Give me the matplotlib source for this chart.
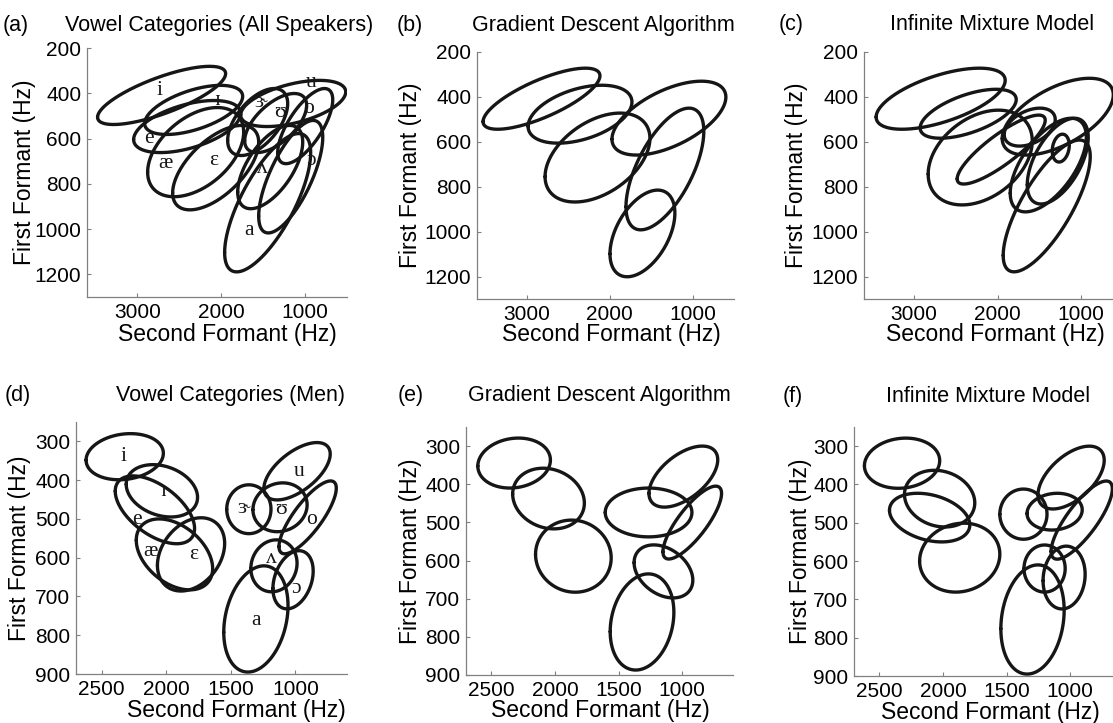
import numpy as np
import matplotlib
matplotlib.use('Agg')
import matplotlib.pyplot as plt

plt.rcParams['font.family'] = ['Liberation Sans', 'DejaVu Sans']

# ---- data: each ellipse = F2 range, F1 range, tilt (correlation) ----
vowels = ['i', 'ɪ', 'e', 'æ', 'ɛ', 'ɝ', 'ʊ', 'u', 'o', 'ʌ', 'ɔ', 'a']

# (a) all speakers
a_f2_hi = [3474, 2913, 3044, 2877, 2579, 1923, 1720, 1768, 1326, 1803, 1553, 1959]
a_f2_lo = [1947, 1744, 1768, 1732, 1553, 1207, 981, 515, 670, 1028, 789, 933]
a_f1_lo = [281, 365, 432, 463, 542, 379, 401, 343, 379, 542, 520, 578]
a_f1_hi = [538, 582, 662, 857, 915, 675, 662, 547, 711, 910, 1017, 1189]
a_rho = [0.75, 0.55, 0.5, 0.45, 0.6, 0.55, 0.6, 0.5, 0.7, 0.6, 0.7, 0.72]
a_lab_f2 = [2730, 2046, 2862, 2662, 2086, 1529, 1299, 933, 953, 1509, 933, 1669]
a_lab_f1 = [387, 432, 601, 712, 697, 439, 484, 351, 468, 734, 697, 1008]

# (b) gradient descent, all speakers
b_f2_hi = [3527, 2984, 2779, 1972, 1803, 1996]
b_f2_lo = [2117, 1731, 1514, 598, 864, 1213]
b_f1_lo = [272, 348, 472, 330, 450, 815]
b_f1_hi = [544, 606, 868, 659, 992, 1201]
b_rho = [0.75, 0.42, 0.43, 0.57, 0.62, 0.47]

# (c) infinite mixture model, all speakers
c_f2_hi = [3455, 2928, 2832, 2485, 1946, 1922, 1934, 1850, 1646, 1347]
c_f2_lo = [1910, 1778, 1586, 1431, 616, 1311, 892, 939, 916, 1143]
c_f1_lo = [272, 366, 459, 481, 317, 450, 592, 495, 495, 566]
c_f1_hi = [544, 584, 881, 788, 659, 619, 1179, 912, 877, 690]
c_rho = [0.6, 0.58, 0.35, 0.85, 0.57, 0.4, 0.75, 0.6, 0.55, 0.2]

# (d) men
d_f2_hi = [2622, 2311, 2396, 2233, 2069, 1532, 1329, 1244, 1127, 1345, 1174, 1555]
d_f2_lo = [2023, 1758, 1781, 1641, 1548, 1189, 909, 730, 683, 987, 862, 1057]
d_f1_lo = [280, 360, 389, 500, 497, 412, 407, 303, 402, 554, 582, 621]
d_f1_hi = [399, 495, 564, 683, 686, 538, 533, 451, 590, 688, 732, 895]
d_rho = [0.15, -0.25, -0.55, -0.4, 0.3, 0.0, 0.1, 0.6, 0.8, 0.1, 0.3, 0.25]
d_lab_f2 = [2332, 2025, 2227, 2124, 1787, 1397, 1111, 969, 878, 1189, 995, 1306]
d_lab_f1 = [340, 429, 502, 584, 593, 472, 476, 377, 502, 601, 679, 761]

# (e) gradient descent, men
e_f2_hi = [2607, 2333, 2153, 1605, 1261, 1151, 1378, 1566]
e_f2_lo = [2036, 1769, 1558, 923, 720, 690, 916, 1065]
e_f1_lo = [279, 358, 494, 410, 300, 405, 559, 635]
e_f1_hi = [410, 517, 683, 538, 460, 596, 698, 887]
e_rho = [0.12, -0.15, -0.05, 0.0, 0.55, 0.8, -0.33, 0.2]

# (f) infinite mixture model, men
f_f2_hi = [2618, 2303, 2421, 2184, 1553, 1253, 1339, 1150, 1363, 1213, 1545]
f_f2_lo = [2026, 1750, 1789, 1553, 1182, 732, 905, 668, 1039, 882, 1047]
f_f1_lo = [279, 363, 423, 501, 412, 300, 423, 391, 558, 561, 610]
f_f1_hi = [410, 511, 550, 681, 543, 464, 519, 595, 681, 725, 895]
f_rho = [0.1, -0.15, -0.3, 0.1, 0.0, 0.55, 0.1, 0.8, 0.0, 0.1, 0.17]

top_xticks = [3000, 2000, 1000]
top_yticks = [200, 400, 600, 800, 1000, 1200]
bot_xticks = [2500, 2000, 1500, 1000]
bot_yticks = [300, 400, 500, 600, 700, 800, 900]

W, H = 1113, 723
fig = plt.figure(figsize=(W / 100, H / 100), dpi=100)
INK = '#161616'
GREY = '#808080'


def box(l, t, r, b):
    return [l / W, 1 - b / H, (r - l) / W, (b - t) / H]


def ellipses(ax, f2hi, f2lo, f1lo, f1hi, rho):
    t = np.linspace(0, 2 * np.pi, 400)
    for x1, x0, y0, y1, r in zip(f2hi, f2lo, f1lo, f1hi, rho):
        cx, ax_ = (x0 + x1) / 2, (x1 - x0) / 2
        cy, ay_ = (y0 + y1) / 2, (y1 - y0) / 2
        phi = np.arccos(r)
        ax.plot(cx + ax_ * np.cos(t), cy + ay_ * np.cos(t + phi),
                color=INK, lw=2.4, solid_joinstyle='round', solid_capstyle='round')


def setup(ax, xlim, ylim, xt, yt, xlab_px, ylab_px):
    ax.set_xlim(*xlim)
    ax.set_ylim(*ylim)
    ax.set_xticks(xt)
    ax.set_yticks(yt)
    for s in ['top', 'right']:
        ax.spines[s].set_visible(False)
    for s in ['left', 'bottom']:
        ax.spines[s].set_color(GREY)
        ax.spines[s].set_linewidth(0.9)
    ax.tick_params(direction='in', length=3, width=0.8, color=GREY,
                   labelsize=15, labelcolor='black')
    ax.tick_params(axis='x', pad=4.5)
    ax.tick_params(axis='y', pad=4)
    ax.set_xlabel('Second Formant (Hz)', fontsize=16.5, va='center', ha='center')
    ax.set_ylabel('First Formant (Hz)', fontsize=16.5, va='center', ha='center')
    ax.xaxis.set_label_coords(xlab_px[0] / W, 1 - xlab_px[1] / H, transform=fig.transFigure)
    ax.yaxis.set_label_coords(ylab_px[0] / W, 1 - ylab_px[1] / H, transform=fig.transFigure)


def heading(letter, lx, title, tx, base):
    fig.text(lx / W, 1 - base / H, letter, fontsize=15.5, ha='center', va='baseline')
    fig.text(tx / W, 1 - base / H, title, fontsize=15.5, ha='center', va='baseline')


def labels(ax, f2, f1):
    for v, x, y in zip(vowels, f2, f1):
        ax.text(x, y, v, fontsize=15.5, ha='center', va='center',
                family=['Liberation Serif', 'DejaVu Serif'], color=INK)


# top row
axa = fig.add_axes(box(87, 48, 347, 297))
setup(axa, (3600, 500), (1300, 200), top_xticks, top_yticks, (227, 334), (25, 172))
ellipses(axa, a_f2_hi, a_f2_lo, a_f1_lo, a_f1_hi, a_rho)
labels(axa, a_lab_f2, a_lab_f1)
heading('(a)', 16, 'Vowel Categories (All Speakers)', 219, 31)

axb = fig.add_axes(box(477, 52, 734, 299))
setup(axb, (3600, 500), (1300, 200), top_xticks, top_yticks, (611, 335), (410, 175))
ellipses(axb, b_f2_hi, b_f2_lo, b_f1_lo, b_f1_hi, b_rho)
heading('(b)', 410, 'Gradient Descent Algorithm', 603, 31)

axc = fig.add_axes(box(864, 52, 1123, 299))
setup(axc, (3600, 500), (1300, 200), top_xticks, top_yticks, (995, 335), (797, 175))
ellipses(axc, c_f2_hi, c_f2_lo, c_f1_lo, c_f1_hi, c_rho)
heading('(c)', 791, 'Infinite Mixture Model', 992, 30)

# bottom row
axd = fig.add_axes(box(76, 422, 347, 674))
setup(axd, (2700, 600), (900, 250), bot_xticks, bot_yticks, (236, 710), (20, 548))
ellipses(axd, d_f2_hi, d_f2_lo, d_f1_lo, d_f1_hi, d_rho)
labels(axd, d_lab_f2, d_lab_f1)
heading('(d)', 18, 'Vowel Categories (Men)', 231, 401)

axe = fig.add_axes(box(466, 427, 733, 675))
setup(axe, (2700, 600), (900, 250), bot_xticks, bot_yticks, (600, 711), (410, 551))
ellipses(axe, e_f2_hi, e_f2_lo, e_f1_lo, e_f1_hi, e_rho)
heading('(e)', 411, 'Gradient Descent Algorithm', 599, 401)

axf = fig.add_axes(box(854, 427, 1121, 676))
setup(axf, (2700, 600), (900, 250), bot_xticks, bot_yticks, (990, 712), (800, 551))
ellipses(axf, f_f2_hi, f_f2_lo, f_f1_lo, f_f1_hi, f_rho)
heading('(f)', 793, 'Infinite Mixture Model', 988, 402)

fig.savefig('out.png', dpi=100)
